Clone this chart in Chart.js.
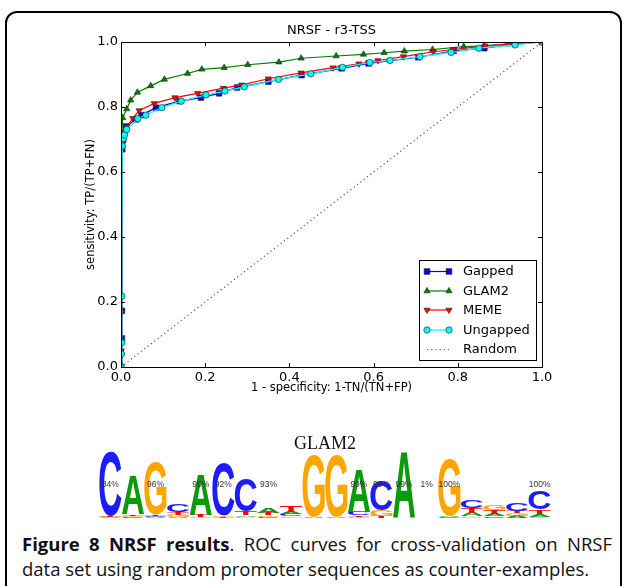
<!DOCTYPE html>
<html>
<head>
<meta charset="utf-8">
<script src="https://cdn.jsdelivr.net/npm/chart.js@4.4.1/dist/chart.umd.min.js"></script>
<style>
html, body { margin: 0; padding: 0; background: #fff; width: 624px; height: 586px; overflow: hidden; }
#frame { position: absolute; left: 5px; top: 11px; width: 617px; height: 640px; border: 2px solid #000; border-radius: 12px; box-sizing: border-box; }
#roc { position: absolute; left: 0; top: 0; }
#logo { position: absolute; left: 0; top: 425px; }
.cap { position: absolute; left: 22px; font-family: "Open Sans"; font-size: 18.5px; line-height: 25px; color: #111; }
#cap1 { top: 531px; width: 590px; text-align: justify; text-align-last: justify; }
#cap2 { top: 556px; white-space: nowrap; }
</style>
</head>
<body>
<div id="frame"></div>
<canvas id="roc" width="624" height="400"></canvas>
<canvas id="logo" width="624" height="100"></canvas>
<div class="cap" id="cap1"><b>Figure 8 NRSF results</b>. ROC curves for cross-validation on NRSF</div>
<div class="cap" id="cap2">data set using random promoter sequences as counter-examples.</div>
<script>
// ROC curves
const gappedX = [0, 0.002, 0.002, 0.003, 0.005, 0.008, 0.012, 0.036, 0.049, 0.083, 0.139, 0.190, 0.233, 0.276, 0.350, 0.429, 0.524, 0.588, 0.706, 0.790, 0.863, 0.936, 1.0];
const gappedY = [0, 0.088, 0.173, 0.670, 0.698, 0.720, 0.740, 0.762, 0.775, 0.798, 0.818, 0.829, 0.842, 0.860, 0.878, 0.898, 0.919, 0.934, 0.953, 0.973, 0.981, 0.994, 1.0];

const glamX = [0, 0.001, 0.002, 0.004, 0.0135, 0.023, 0.039, 0.0705, 0.103, 0.158, 0.192, 0.245, 0.301, 0.375, 0.428, 0.511, 0.576, 0.625, 0.673, 0.740, 0.814, 0.863, 0.918, 1.0];
const glamY = [0, 0.047, 0.700, 0.767, 0.794, 0.821, 0.845, 0.865, 0.885, 0.903, 0.916, 0.921, 0.930, 0.938, 0.950, 0.957, 0.962, 0.967, 0.972, 0.977, 0.986, 0.988, 0.993, 1.0];

const memeX = [0, 0.001, 0.002, 0.003, 0.004, 0.0135, 0.028, 0.043, 0.079, 0.128, 0.182, 0.243, 0.287, 0.350, 0.428, 0.504, 0.565, 0.610, 0.671, 0.742, 0.790, 0.865, 0.932, 1.0];
const memeY = [0, 0.050, 0.168, 0.690, 0.724, 0.739, 0.765, 0.789, 0.811, 0.829, 0.842, 0.858, 0.868, 0.887, 0.905, 0.921, 0.933, 0.943, 0.955, 0.970, 0.977, 0.988, 0.996, 1.0];

const ungappedX = [0, 0.001, 0.002, 0.002, 0.003, 0.006, 0.008, 0.0135, 0.040, 0.059, 0.097, 0.143, 0.202, 0.247, 0.293, 0.374, 0.451, 0.526, 0.591, 0.639, 0.710, 0.784, 0.850, 0.936, 1.0];
const ungappedY = [0, 0.040, 0.075, 0.218, 0.680, 0.703, 0.714, 0.731, 0.764, 0.775, 0.798, 0.818, 0.837, 0.849, 0.862, 0.885, 0.902, 0.922, 0.937, 0.943, 0.955, 0.968, 0.981, 0.991, 1.0];

const randomX = [0, 1];
const randomY = [0, 1];

const axisTicks = [0, 0.2, 0.4, 0.6, 0.8, 1.0];

// GLAM2 logo columns (bits per letter)
const logoPos = ['1','2','3','4','5','6','7','8','9','10','11','12','13','14','15','16','17','18','19','20'];
const logoA = [0.02, 1.18, 0.03, 0.04, 1.20, 0.00, 0.05, 0.15, 0.08, 0.03, 0.03, 1.30, 0.00, 2.00, 0, 0.04, 0.10, 0.08, 0.06, 0.08];
const logoC = [1.95, 0.03, 0.03, 0.25, 0.00, 1.58, 0.98, 0.04, 0.06, 0.00, 0.00, 0.10, 0.92, 0.00, 0, 0.03, 0.25, 0.05, 0.25, 0.55];
const logoG = [0.02, 0.04, 1.58, 0.06, 0.04, 0.05, 0.04, 0.05, 0.05, 1.88, 1.88, 0.03, 0.18, 0.00, 0, 1.72, 0.05, 0.15, 0.08, 0.04];
const logoT = [0.02, 0.05, 0.04, 0.08, 0.06, 0.03, 0.10, 0.07, 0.18, 0.00, 0.00, 0.05, 0.06, 0.00, 0, 0.00, 0.15, 0.10, 0.08, 0.13];
const logoPct = ['84%', '', '96%', '', '99%', '92%', '', '93%', '', '', '', '99%', '99%', '99%', '1%', '100%', '', '', '', '100%'];

const pts = (xs, ys) => xs.map((x, i) => ({ x: x, y: ys[i] }));

const series = [
    { label: 'Gapped', x: gappedX, y: gappedY, color: '#0000ff', style: 'rect', rot: 0, r: 4.0, order: 4 },
    { label: 'GLAM2', x: glamX, y: glamY, color: '#008000', style: 'triangle', rot: 0, r: 3.6, order: 3 },
    { label: 'MEME', x: memeX, y: memeY, color: '#ff0000', style: 'triangle', rot: 180, r: 3.6, order: 2 },
    { label: 'Ungapped', x: ungappedX, y: ungappedY, color: '#00ffff', style: 'circle', rot: 0, r: 3.2, order: 1 }
];

const rocDatasets = series.map(s => ({
    label: s.label,
    data: pts(s.x, s.y),
    borderColor: s.color,
    borderWidth: 1.2,
    backgroundColor: s.color,
    pointBackgroundColor: s.color,
    pointBorderColor: '#1a1a1a',
    pointBorderWidth: 0.6,
    pointStyle: s.style,
    pointRotation: s.rot,
    pointRadius: s.r,
    tension: 0,
    order: s.order
}));
rocDatasets.push({
    label: 'Random',
    data: pts(randomX, randomY),
    borderColor: '#555',
    borderWidth: 1.2,
    borderDash: [1.2, 3],
    pointRadius: 0,
    tension: 0,
    order: 0
});

const FONT = '"DejaVu Sans", sans-serif';

const rocDecor = {
    id: 'rocDecor',
    afterDraw(chart) {
        const { ctx, chartArea: a, scales } = chart;
        ctx.save();
        // axes box
        ctx.strokeStyle = '#000';
        ctx.lineWidth = 1;
        ctx.strokeRect(a.left + 0.5, a.top + 0.5, a.right - a.left, a.bottom - a.top);
        // inward ticks on all four sides
        ctx.beginPath();
        scales.x.ticks.forEach(t => {
            const px = Math.round(scales.x.getPixelForValue(t.value)) + 0.5;
            ctx.moveTo(px, a.bottom); ctx.lineTo(px, a.bottom - 4);
            ctx.moveTo(px, a.top); ctx.lineTo(px, a.top + 4);
        });
        scales.y.ticks.forEach(t => {
            const py = Math.round(scales.y.getPixelForValue(t.value)) + 0.5;
            ctx.moveTo(a.left, py); ctx.lineTo(a.left + 4, py);
            ctx.moveTo(a.right, py); ctx.lineTo(a.right - 4, py);
        });
        ctx.stroke();

        // titles
        ctx.fillStyle = '#000';
        ctx.textAlign = 'center';
        ctx.textBaseline = 'middle';
        ctx.font = '13px ' + FONT;
        ctx.fillText('NRSF - r3-TSS', (a.left + a.right) / 2, 31);
        ctx.font = '11.5px ' + FONT;
        ctx.fillText('1 - specificity: 1-TN/(TN+FP)', (a.left + a.right) / 2, 388);
        ctx.save();
        ctx.translate(91, (a.top + a.bottom) / 2);
        ctx.rotate(-Math.PI / 2);
        ctx.fillText('sensitivity: TP/(TP+FN)', 0, 0);
        ctx.restore();

        // legend
        const bx = a.right - 123, by = a.bottom - 107, bw = 117, bh = 100;
        ctx.fillStyle = '#fff';
        ctx.fillRect(bx, by, bw, bh);
        ctx.strokeStyle = '#000';
        ctx.lineWidth = 1;
        ctx.strokeRect(bx + 0.5, by + 0.5, bw, bh);
        const rowY = [11.5, 31, 50, 70, 89.5];
        ctx.font = '13px ' + FONT;
        ctx.textAlign = 'left';
        chart.data.datasets.forEach((ds, i) => {
            const y = by + rowY[i];
            const x0 = bx + 8, x1 = bx + 30;
            ctx.save();
            ctx.strokeStyle = ds.borderColor;
            ctx.lineWidth = ds.borderWidth;
            ctx.setLineDash(ds.borderDash || []);
            ctx.beginPath();
            ctx.moveTo(x0, y); ctx.lineTo(x1, y);
            ctx.stroke();
            ctx.restore();
            if (ds.pointRadius > 0) {
                [x0, x1].forEach(px => {
                    ctx.save();
                    ctx.fillStyle = ds.pointBackgroundColor;
                    ctx.strokeStyle = ds.pointBorderColor;
                    ctx.lineWidth = ds.pointBorderWidth;
                    Chart.helpers.drawPoint(ctx, {
                        pointStyle: ds.pointStyle, rotation: ds.pointRotation,
                        radius: ds.pointRadius, borderWidth: ds.pointBorderWidth
                    }, px, y);
                    ctx.restore();
                });
            }
            ctx.fillStyle = '#000';
            ctx.fillText(ds.label, bx + 44, y + 0.5);
        });
        ctx.restore();
    }
};

new Chart(document.getElementById('roc'), {
    type: 'line',
    data: { datasets: rocDatasets },
    options: {
        responsive: false,
        animation: false,
        events: [],
        layout: { padding: { left: 0, top: 42, right: 82, bottom: 0 } },
        plugins: { legend: { display: false }, tooltip: { enabled: false } },
        scales: {
            x: {
                type: 'linear', min: 0, max: 1,
                afterBuildTicks: s => { s.ticks = axisTicks.map(v => ({ value: v })); },
                afterFit: s => { s.height = 33; },
                grid: { display: false, drawTicks: false },
                border: { display: false },
                ticks: { padding: 3, color: '#000', font: { family: FONT, size: 13 }, maxRotation: 0, callback: v => v.toFixed(1) }
            },
            y: {
                type: 'linear', min: 0, max: 1,
                afterBuildTicks: s => { s.ticks = axisTicks.map(v => ({ value: v })); },
                afterFit: s => { s.width = 121; },
                grid: { display: false, drawTicks: false },
                border: { display: false },
                ticks: { padding: 3, color: '#000', font: { family: FONT, size: 13 }, callback: v => v.toFixed(1) }
            }
        }
    },
    plugins: [rocDecor]
});

// sequence logo
const letterColor = { A: '#0b9a0b', C: '#1c1cff', G: '#ffa500', T: '#ff0000' };
const letterRows = { A: logoA, C: logoC, G: logoG, T: logoT };

function drawLetter(ctx, ch, color, x0, x1, yTop, yBot) {
    if (yBot - yTop < 0.4) return;
    ctx.save();
    ctx.font = 'bold 100px "Liberation Sans"';
    const m = ctx.measureText(ch);
    const gw = m.actualBoundingBoxLeft + m.actualBoundingBoxRight;
    const gh = m.actualBoundingBoxAscent + m.actualBoundingBoxDescent;
    ctx.translate(x0, yTop);
    ctx.scale((x1 - x0) / gw, (yBot - yTop) / gh);
    ctx.fillStyle = color;
    ctx.textAlign = 'left';
    ctx.textBaseline = 'alphabetic';
    ctx.fillText(ch, m.actualBoundingBoxLeft, m.actualBoundingBoxAscent);
    ctx.restore();
}

const logoDraw = {
    id: 'logoDraw',
    afterDatasetsDraw(chart) {
        const { ctx, chartArea: a, scales } = chart;
        const xs = scales.x, ys = scales.y;
        const step = xs.getPixelForValue(1) - xs.getPixelForValue(0);
        logoPos.forEach((p, i) => {
            const cx = xs.getPixelForValue(i);
            const x0 = cx - step * 0.49, x1 = cx + step * 0.49;
            const stack = Object.keys(letterRows)
                .map(k => ({ k: k, h: letterRows[k][i] }))
                .filter(o => o.h > 0)
                .sort((u, v) => u.h - v.h);
            let base = 0;
            stack.forEach(o => {
                drawLetter(ctx, o.k, letterColor[o.k], x0, x1,
                    ys.getPixelForValue(base + o.h), ys.getPixelForValue(base));
                base += o.h;
            });
        });
        ctx.save();
        ctx.fillStyle = '#333';
        ctx.font = '8.5px "Liberation Sans"';
        ctx.textAlign = 'center';
        ctx.textBaseline = 'middle';
        logoPct.forEach((t, i) => {
            if (t) ctx.fillText(t, xs.getPixelForValue(i), ys.getPixelForValue(1));
        });
        ctx.fillStyle = '#111';
        ctx.font = '18px "Liberation Serif"';
        ctx.fillText('GLAM2', (a.left + a.right) / 2, a.top - 8);
        ctx.restore();
    }
};

new Chart(document.getElementById('logo'), {
    type: 'bar',
    data: {
        labels: logoPos,
        datasets: Object.keys(letterRows).map(k => ({
            label: k, data: letterRows[k], backgroundColor: 'rgba(0,0,0,0)', borderWidth: 0, stack: 's'
        }))
    },
    options: {
        responsive: false,
        animation: false,
        events: [],
        layout: { padding: { left: 99, right: 73, top: 27, bottom: 7 } },
        plugins: { legend: { display: false }, tooltip: { enabled: false } },
        scales: {
            x: { display: false, stacked: true },
            y: { display: false, stacked: true, min: 0, max: 2 }
        }
    },
    plugins: [logoDraw]
});
</script>
</body>
</html>
